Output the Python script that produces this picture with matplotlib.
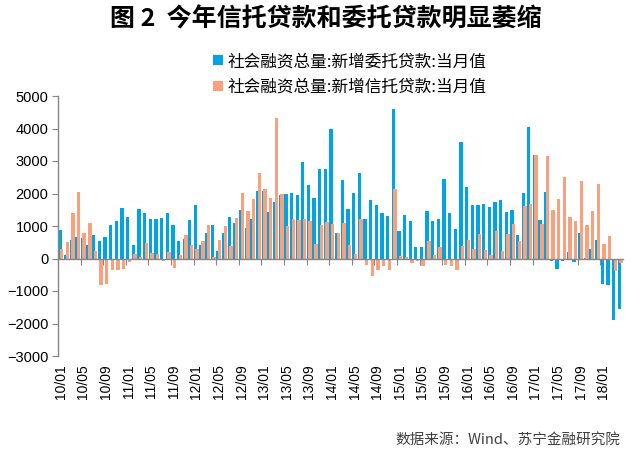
import numpy as np
import matplotlib
matplotlib.use("Agg")
from matplotlib import pyplot as plt

# monthly values, 亿元, 2010/01 - 2018/04
months = ["%02d/%02d" % (y % 100, m) for y in range(2010, 2019) for m in range(1, 13)][:100]

entrusted = [870, 120, 560, 650, 640, 410, 720, 530, 650, 1030, 1150, 1560,
             1290, 410, 1530, 1400, 1220, 1220, 1250, 1400, 1030, 530, 600, 1180,
             1660, 410, 790, 1030, 230, 790, 1290, 1080, 1500, 940, 1230, 2090,
             2090, 1440, 1750, 1940, 1970, 2010, 1940, 2960, 2250, 1870, 2740, 2740,
             3990, 800, 2430, 1530, 2020, 2640, 1220, 1790, 1640, 1400, 1300, 4600,
             840, 1330, 1150, 350, 350, 1450, 1150, 1220, 2450, 1400, 910, 3580,
             2200, 1660, 1660, 1690, 1590, 1740, 1790, 1440, 1490, 730, 2010, 4040,
             3170, 1180, 2050, -80, -310, -80, 190, -110, 790, 20, 300, 580,
             -770, -800, -1900, -1540]

trust = [280, 500, 1400, 2050, 770, 1100, 230, -800, -770, -350, -350, -310,
         -120, 150, 40, 490, 180, 150, -90, 200, -290, 120, 720, 420,
         280, 530, 1030, 40, 570, 990, 380, 1250, 2020, 1450, 1840, 2640,
         2140, 1850, 4330, 1990, 1010, 1220, 1190, 1220, 1150, 460, 1040, 1130,
         1070, 770, 1100, 430, 150, 1220, -200, -540, -360, -240, -360, 2140,
         90, 40, -130, -80, -240, 530, 120, 350, -200, -240, -360, 380,
         580, 300, 760, 270, 120, 840, 230, 760, 1070, 530, 1630, 1680,
         3200, 1070, 3150, 1500, 1840, 2510, 1270, 1150, 2400, 1040, 1450, 2280,
         450, 690, -390, -130]

labels = ["社会融资总量:新增委托贷款:当月值", "社会融资总量:新增信托贷款:当月值"]
colors = ["#00A3E6", "#F9A07C"]

cjk = ["Noto Sans CJK SC", "DejaVu Sans"]
plt.rcParams["font.family"] = ["Liberation Sans", "Noto Sans CJK SC", "DejaVu Sans"]

fig = plt.figure(figsize=(6.4, 4.53), dpi=100)
ax = fig.add_axes([58 / 640, 1 - 356 / 453, 565 / 640, 260 / 453])

x = np.arange(len(months))
ax.bar(x - 0.17, entrusted, width=0.58, color=colors[0], label=labels[0], zorder=2)
ax.bar(x + 0.13, trust, width=0.6, color=colors[1], label=labels[1], zorder=3)

ax.set_xlim(-0.5, len(months) - 0.5)
ax.set_ylim(-3000, 5000)
ax.set_yticks(range(-3000, 5001, 1000))
ax.tick_params(axis="y", direction="out", length=4, color="#868686",
               labelsize=10.5, labelcolor="#000000", pad=3)

# axis line at zero, tick marks every 4 months
ax.spines["bottom"].set_position(("data", 0))
for s in ["top", "right"]:
    ax.spines[s].set_visible(False)
for s in ["left", "bottom"]:
    ax.spines[s].set_color("#868686")
    ax.spines[s].set_linewidth(1.0)
ax.spines["bottom"].set_zorder(4)
ax.set_xticks(np.arange(0, len(months), 4) - 0.5)
ax.tick_params(axis="x", direction="out", length=4, color="#868686", labelbottom=False)

sec = ax.secondary_xaxis("bottom")
sec.set_xticks(x[::4])
sec.set_xticklabels(months[::4], rotation=90, fontsize=10)
sec.tick_params(length=0, pad=6)
sec.spines["bottom"].set_visible(False)

fig.text(326 / 640, 1 - 19 / 453, "图 2  今年信托贷款和委托贷款明显萎缩",
         ha="center", va="center", fontsize=18, fontweight="bold", family=cjk)

fig.legend(loc="upper left", bbox_to_anchor=(205 / 640, 1 - 45 / 453),
           frameon=False, prop={"family": cjk, "size": 12},
           handlelength=0.55, handleheight=0.55, handletextpad=0.3,
           labelspacing=0.5, borderpad=0)

fig.text(620 / 640, 1 - 440 / 453, "数据来源：Wind、苏宁金融研究院",
         ha="right", va="center", fontsize=10.5, style="italic",
         color="#404040", family=cjk)

fig.savefig("out.png", dpi=100)
